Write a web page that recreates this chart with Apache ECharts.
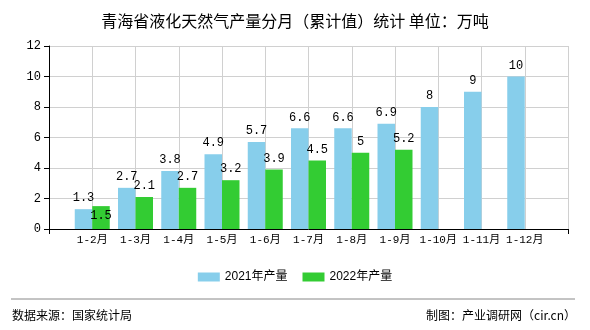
<!DOCTYPE html>
<html>
<head>
<meta charset="utf-8">
<script src="https://cdn.jsdelivr.net/npm/echarts@6/dist/echarts.min.js"></script>
<style>
  html, body { margin: 0; padding: 0; background: #fff; }
  #chart { width: 590px; height: 330px; }
</style>
</head>
<body>
<div id="chart"></div>
<script>
// Monthly cumulative LNG output, Qinghai (10k tonnes)
const months = ['1-2月', '1-3月', '1-4月', '1-5月', '1-6月', '1-7月', '1-8月', '1-9月', '1-10月', '1-11月', '1-12月'];
const output2021 = [1.3, 2.7, 3.8, 4.9, 5.7, 6.6, 6.6, 6.9, 8, 9, 10];
const output2022 = [1.5, 2.1, 2.7, 3.2, 3.9, 4.5, 5, 5.2];
const yTicks = { min: 0, max: 12, interval: 2 };

const CN = '"Noto Sans CJK SC", sans-serif';
const MONO = '"Liberation Mono", "Noto Sans CJK SC", monospace';

// Empty slots at each end so the months sit on interior grid points
const axisCats = [''].concat(months, ['']);
const pad = (arr) => [null].concat(arr, new Array(axisCats.length - 1 - arr.length).fill(null));

const d2022 = pad(output2022).map((v, i) =>
  i === 1 ? { value: v, label: { position: 'insideTop', distance: 4 } } : v);

const chart = echarts.init(document.getElementById('chart'));
chart.setOption({
  animation: false,
  title: {
    text: '青海省液化天然气产量分月（累计值）统计 单位：万吨',
    left: 'center',
    top: 8,
    textStyle: { fontFamily: CN, fontSize: 16, fontWeight: 'normal', color: '#000' }
  },
  legend: {
    bottom: 42,
    left: 'center',
    itemWidth: 22,
    itemHeight: 9,
    itemGap: 15,
    icon: 'rect',
    textStyle: { fontFamily: 'Liberation Sans, "Noto Sans CJK SC", sans-serif', fontSize: 12, color: '#000' },
    data: ['2021年产量', '2022年产量']
  },
  grid: { left: 49, right: 22, top: 46, bottom: 101, containLabel: false },
  xAxis: {
    type: 'category',
    data: axisCats,
    boundaryGap: false,
    axisLine: { lineStyle: { color: '#000', width: 1 } },
    axisTick: {
      show: true, length: 5, lineStyle: { color: '#000' },
      interval: (idx) => idx === 0 || idx === axisCats.length - 1
    },
    axisLabel: { color: '#000', fontFamily: MONO, fontSize: 11, margin: 6, interval: 0 },
    splitLine: { show: true, lineStyle: { color: '#d0d0d0', width: 1 } }
  },
  yAxis: {
    type: 'value',
    min: yTicks.min, max: yTicks.max, interval: yTicks.interval,
    axisLine: { show: true, lineStyle: { color: '#000', width: 1 } },
    axisTick: { show: true, length: 5, lineStyle: { color: '#000' } },
    axisLabel: { color: '#000', fontFamily: MONO, fontSize: 12, margin: 8 },
    splitLine: { show: true, lineStyle: { color: '#d0d0d0', width: 1 } }
  },
  series: [
    {
      name: '2021年产量',
      type: 'bar',
      data: pad(output2021),
      barWidth: 17.5,
      barGap: '0%',
      itemStyle: { color: '#87CEEB' },
      label: { show: true, position: 'top', distance: 5, color: '#000', fontFamily: MONO, fontSize: 12 }
    },
    {
      name: '2022年产量',
      type: 'bar',
      data: d2022,
      barWidth: 17.5,
      barGap: '0%',
      itemStyle: { color: '#33CC33' },
      label: { show: true, position: 'top', distance: 5, color: '#000', fontFamily: MONO, fontSize: 12 }
    }
  ],
  graphic: [
    {
      type: 'line',
      shape: { x1: 11, y1: 299, x2: 575, y2: 299 },
      style: { stroke: '#888', lineWidth: 1 }
    },
    {
      type: 'text', left: 12, top: 309,
      style: { text: '数据来源：国家统计局', font: '12px ' + CN, fill: '#000' }
    },
    {
      type: 'text', right: 14, top: 309,
      style: { text: '制图：产业调研网（cir.cn）', font: '12px ' + CN, fill: '#000' }
    }
  ]
});
</script>
</body>
</html>
